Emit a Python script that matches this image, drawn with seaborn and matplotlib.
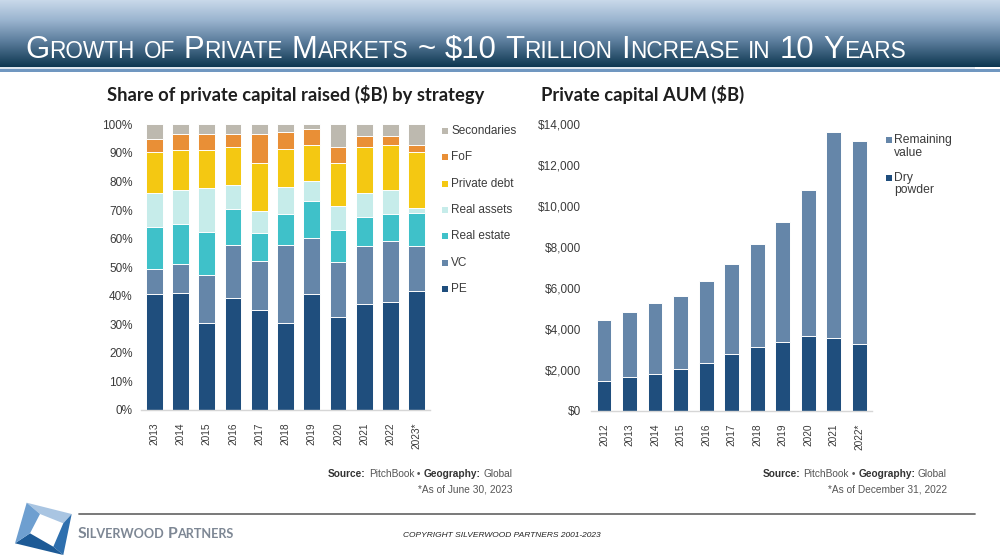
import numpy as np
import matplotlib
matplotlib.use("Agg")
import matplotlib.pyplot as plt
import seaborn as sns
from matplotlib.patches import Rectangle, Polygon
from matplotlib.colors import LinearSegmentedColormap
from matplotlib import font_manager as fm

# ---------------- data ----------------
years_left = ["2013", "2014", "2015", "2016", "2017", "2018", "2019", "2020", "2021", "2022", "2023*"]
strategies = ["PE", "VC", "Real estate", "Real assets", "Private debt", "FoF", "Secondaries"]
pe = [40.5, 41.1, 30.5, 39.3, 34.9, 30.5, 40.5, 32.7, 37.1, 37.7, 41.5]
vc = [9.0, 10.0, 16.6, 18.6, 17.4, 27.4, 19.8, 19.1, 20.3, 21.3, 15.9]
real_estate = [14.6, 14.0, 15.2, 12.3, 9.5, 10.6, 12.7, 11.1, 10.0, 9.5, 11.7]
real_assets = [11.7, 11.9, 15.3, 8.6, 8.0, 9.7, 7.3, 8.4, 8.4, 8.5, 1.7]
private_debt = [14.6, 14.0, 13.4, 13.4, 16.8, 13.3, 12.5, 15.3, 16.4, 15.8, 19.6]
fof = [4.5, 5.6, 5.6, 4.4, 10.0, 5.7, 5.6, 5.6, 3.8, 3.2, 2.4]
secondaries = [5.1, 3.4, 3.4, 3.4, 3.4, 2.8, 1.6, 7.8, 4.0, 4.0, 7.2]

years_right = ["2012", "2013", "2014", "2015", "2016", "2017", "2018", "2019", "2020", "2021", "2022*"]
dry_powder = [1465, 1644, 1791, 2051, 2361, 2784, 3126, 3370, 3679, 3549, 3272]
remaining_value = [2979, 3207, 3484, 3549, 3988, 4379, 5030, 5860, 7131, 10061, 9915]

pct_ticks = list(range(0, 101, 10))
usd_ticks = list(range(0, 14001, 2000))

# ---------------- style ----------------
sns.set_style("white")
avail = {f.name for f in fm.fontManager.ttflist}
NARROW = "Liberation Sans Narrow" if "Liberation Sans Narrow" in avail else "Liberation Sans"
ARIAL = "Liberation Sans"
BOLDF = "Lato" if "Lato" in avail else "DejaVu Sans"
plt.rcParams["font.family"] = [NARROW, "DejaVu Sans"]

W, H = 1000, 560
fig = plt.figure(figsize=(10, 5.6), dpi=100)
fig.patch.set_facecolor("white")

def fx(x):
    return x / W

def fy(y):
    return 1 - y / H

TXT = "#3b3b3b"
seg_colors = ["#1f4e7d", "#6586a9", "#3fc1c9", "#c6ecea", "#f4c812", "#e98f36", "#bdb9af"]

# ---------------- header ----------------
hax = fig.add_axes([0, fy(67), 1, 67 / H])
hax.axis("off")
cmap = LinearSegmentedColormap.from_list(
    "hdr", [(0, "#c9d9ea"), (0.3, "#9ab4cf"), (0.6, "#5f809f"), (1.0, "#0c3650")])
hax.imshow(np.linspace(0, 1, 256).reshape(-1, 1), aspect="auto", cmap=cmap,
           extent=[0, 1, 0, 1])
fig.add_artist(Rectangle((0, fy(68.6)), fx(975), 1.6 / H, transform=fig.transFigure,
                         color="#dde6ef", lw=0))
fig.add_artist(Rectangle((0, fy(71.5)), 1, 2.9 / H, transform=fig.transFigure,
                         color="#7097c0", lw=0))

renderer = fig.canvas.get_renderer()

def text_w(s, kw):
    t = fig.text(0, 0, s, **kw)
    w = t.get_window_extent(renderer).width
    t.remove()
    return w

def place_runs(runs, x_px, y_px, ha="left", target_w=None, va="baseline"):
    def seg_w(s, kw):
        if s.strip() == "":
            return len(s) * (text_w("l l", kw) - text_w("ll", kw))
        return text_w(s, kw)
    widths = [seg_w(s, kw) for s, kw in runs]
    if target_w:
        sc = target_w / sum(widths)
        runs = [(s, {**kw, "fontsize": kw["fontsize"] * sc}) for s, kw in runs]
        widths = [w * sc for w in widths]
    total = sum(widths)
    x = x_px - total if ha == "right" else (x_px - total / 2 if ha == "center" else x_px)
    for (s, kw), w in zip(runs, widths):
        if s.strip():
            fig.text(fx(x), fy(y_px), s, ha="left", va=va, **kw)
        x += w

def small_caps_runs(text, big, small, **kw):
    runs = []
    cur, cls = "", None
    for c in text:
        k = "sp" if c == " " else ("sm" if c.islower() else "bg")
        if k != cls and cur:
            runs.append((cur, cls))
            cur = ""
        cls = k
        cur += c.upper()
    runs.append((cur, cls))
    out = []
    for s, k in runs:
        size = small if k == "sm" else big
        out.append((s, {**kw, "fontsize": size}))
    return out

title = "Growth of Private Markets ~ $10 Trillion Increase in 10 Years"
place_runs(small_caps_runs(title, 22, 16, family=ARIAL, color="white"),
           25, 58, target_w=881)

# ---------------- left chart ----------------
axL = fig.add_axes([fx(141), fy(410), fx(430) - fx(141), (410 - 124.3) / H])
left_series = [pe, vc, real_estate, real_assets, private_debt, fof, secondaries]
cum = np.cumsum(np.array(left_series), axis=0)
for i in range(len(left_series) - 1, -1, -1):
    sns.barplot(x=years_left, y=cum[i], color=seg_colors[i], saturation=1,
                width=0.64, edgecolor="white", linewidth=0.7, ax=axL)
axL.set_xlim(-0.5, len(years_left) - 0.5)
axL.set_ylim(0, 100)
axL.set_yticks(pct_ticks)
axL.set_yticklabels([f"{v}%" for v in pct_ticks])

# ---------------- right chart ----------------
axR = fig.add_axes([fx(591.2), fy(411), fx(872.1) - fx(591.2), (411 - 124.3) / H])
totals = np.array(dry_powder) + np.array(remaining_value)
sns.barplot(x=years_right, y=totals, color="#6586a9", saturation=1,
            width=0.58, edgecolor="white", linewidth=0.7, ax=axR)
sns.barplot(x=years_right, y=dry_powder, color="#1f4e7d", saturation=1,
            width=0.58, edgecolor="white", linewidth=0.7, ax=axR)
axR.set_xlim(-0.5, len(years_right) - 0.5)
axR.set_ylim(0, 14000)
axR.set_yticks(usd_ticks)
axR.set_yticklabels([f"${v:,}" for v in usd_ticks])

for ax, ypad in ((axL, 6), (axR, 7.5)):
    ax.set_xlabel("")
    ax.set_ylabel("")
    for s in ("top", "right", "left"):
        ax.spines[s].set_visible(False)
    ax.spines["bottom"].set_color("#d6d6d6")
    ax.spines["bottom"].set_linewidth(1.0)
    ax.tick_params(axis="y", length=0, pad=ypad, labelsize=8.5, labelcolor=TXT)
    ax.tick_params(axis="x", length=0, pad=9, labelsize=7.3, labelcolor=TXT,
                   labelrotation=90)
    ax.grid(False)
    ax.set_facecolor("none")

# chart titles
fig.text(fx(107), fy(101), "Share of private capital raised ($B) by strategy",
         family=BOLDF, fontweight="bold", fontsize=13.2, color="#1e1e1e", va="baseline")
fig.text(fx(541), fy(101), "Private capital AUM ($B)",
         family=BOLDF, fontweight="bold", fontsize=13.2, color="#1e1e1e", va="baseline")

# left legend
leg_y = [131, 157.3, 183.6, 209.9, 236.2, 262.5, 288.8]
for j, idx in enumerate(range(len(strategies) - 1, -1, -1)):
    y = leg_y[j]
    fig.add_artist(Rectangle((fx(441.5), fy(y + 3)), 6 / W, 6 / H,
                             transform=fig.transFigure, color=seg_colors[idx], lw=0))
    fig.text(fx(451), fy(y), strategies[idx], fontsize=8.5, color=TXT, va="center")

# right legend
for y, col, lines in ((140, "#6586a9", ["Remaining", "value"]),
                      (178, "#1f4e7d", ["Dry", "powder"])):
    fig.add_artist(Rectangle((fx(886), fy(y + 3)), 6 / W, 6 / H,
                             transform=fig.transFigure, color=col, lw=0))
    fig.text(fx(894), fy(y), lines[0], fontsize=8.7, color=TXT, va="center")
    fig.text(fx(894), fy(y + 12.5), lines[1], fontsize=8.7, color=TXT, va="center")

# sources
def source_line(xr):
    b = {"family": NARROW, "fontweight": "bold", "fontsize": 7.3, "color": "#333333"}
    n = {"family": NARROW, "fontweight": "normal", "fontsize": 7.3, "color": "#555555"}
    place_runs([("Source:", b), (" ", n), ("PitchBook", n), (" \u2022 ", n),
                ("Geography:", b), (" ", n), ("Global", n)], xr, 477, ha="right")

source_line(512)
source_line(947)
fig.text(fx(512), fy(493), "*As of June 30, 2023", ha="right", va="baseline",
         fontsize=7.3, color="#555555")
fig.text(fx(947), fy(493), "*As of December 31, 2022", ha="right", va="baseline",
         fontsize=7.3, color="#555555")

# ---------------- footer ----------------
fig.add_artist(plt.Line2D([fx(79), fx(975)], [fy(514), fy(514)],
                          transform=fig.transFigure, color="#6e6e6e", lw=1.3))
outer = [(26.7, 502.7), (71.7, 514), (63.3, 555), (15, 543.3)]
inner = [(40, 514), (63.3, 523.3), (53.3, 546.7), (30, 533.3)]
faces = [((outer[0], outer[1], inner[1], inner[0]), "#a9c5e2"),
         ((outer[1], outer[2], inner[2], inner[1]), "#2e6fae"),
         ((outer[2], outer[3], inner[3], inner[2]), "#1d5a96"),
         ((outer[3], outer[0], inner[0], inner[3]), "#6e9fd0")]
for pts, col in faces:
    fig.add_artist(Polygon([(fx(a), fy(b)) for a, b in pts], closed=True,
                           transform=fig.transFigure, color=col, lw=0))

place_runs(small_caps_runs("Silverwood Partners", 13, 10.5, family=BOLDF,
                           fontweight="bold", color="#7d8794"),
           77.5, 537.5, target_w=156)
fig.text(fx(502), fy(537), "COPYRIGHT SILVERWOOD PARTNERS 2001-2023", ha="center",
         va="baseline", fontsize=6, style="italic", color="#222222", family=NARROW)

fig.savefig("out.png", dpi=100)
